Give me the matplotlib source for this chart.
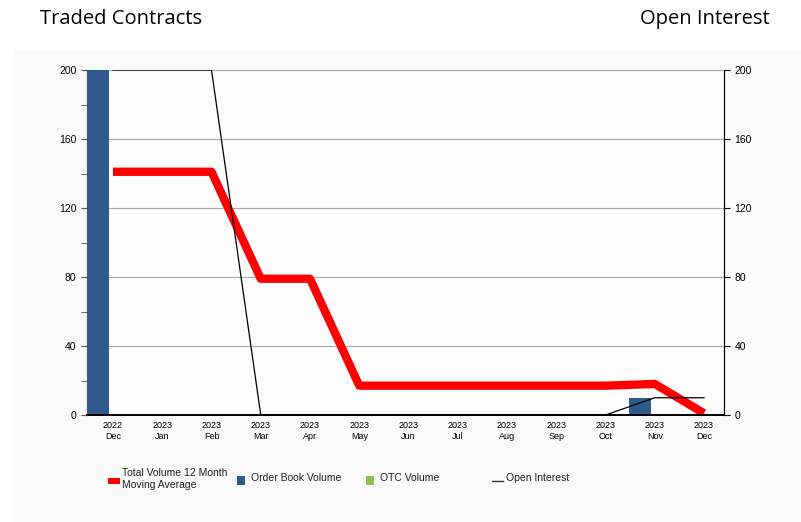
import numpy as np
import matplotlib.pyplot as plt
from matplotlib.patches import Rectangle
from matplotlib.lines import Line2D

months = ["2022\nDec", "2023\nJan", "2023\nFeb", "2023\nMar", "2023\nApr", "2023\nMay", "2023\nJun",
          "2023\nJul", "2023\nAug", "2023\nSep", "2023\nOct", "2023\nNov", "2023\nDec"]
order_book = [240, 0, 0, 0, 0, 0, 0, 0, 0, 0, 0, 10, 0]
otc_volume = [0, 0, 0, 0, 0, 0, 0, 0, 0, 0, 0, 0, 0]
moving_avg = [141, 141, 141, 79, 79, 17, 17, 17, 17, 17, 17, 18, 1]
open_interest = [200, 200, 200, 0, 0, 0, 0, 0, 0, 0, 0, 10, 10]

blue = "#2f5b8c"
green = "#8bc34a"
plt.rcParams["font.family"] = ["Liberation Sans", "DejaVu Sans"]

fig = plt.figure(figsize=(8.01, 5.22), dpi=100)
fig.patch.set_facecolor("white")
# light panel behind the chart
fig.patches.append(Rectangle((13 / 801, 0), 1, 1 - 49 / 522, transform=fig.transFigure,
                             facecolor="#fafafa", edgecolor="none", zorder=-10))

ax = fig.add_axes([87 / 801, 1 - 415 / 522, 637 / 801, 345 / 522])
ax.set_facecolor("#fcfcfc")
x = np.arange(len(months))

ax.bar(x - 0.3, order_book, width=0.45, color=blue, zorder=2)
ax.bar(x - 0.3, otc_volume, width=0.45, bottom=order_book, color=green, zorder=2)
ax.plot(x, moving_avg, color="red", lw=6, solid_joinstyle="round", solid_capstyle="butt", zorder=3)
ax.plot(x, open_interest, color="black", lw=0.9, zorder=4)

ax.set_xlim(-0.528, 12.406)
ax.set_ylim(0, 200)
ax.set_yticks(np.arange(0, 201, 40))
ax.set_yticks(np.arange(20, 200, 40), minor=True)
ax.yaxis.grid(True, color="#aaaaaa", lw=0.8, zorder=0)
ax.set_xticks(x)
ax.set_xticklabels(months, fontsize=6.5, linespacing=1.4)
ax.tick_params(axis="x", length=0, pad=4)
ax.tick_params(axis="y", labelsize=7.5, length=4, color="#555555")
ax.tick_params(axis="y", which="minor", length=4, color="#555555")

ax2 = ax.twinx()
ax2.set_ylim(0, 200)
ax2.set_yticks(np.arange(0, 201, 40))
ax2.tick_params(axis="y", labelsize=7.5, length=4)

for a in (ax, ax2):
    a.spines["top"].set_visible(False)
    a.spines["left"].set_color("#555555")
    a.spines["right"].set_color("black")
    a.spines["bottom"].set_color("black")
    a.spines["bottom"].set_linewidth(1.2)

fig.text(40 / 801, 1 - 19 / 522, "Traded Contracts", fontsize=14.5, family="Open Sans", va="center")
fig.text(770 / 801, 1 - 19 / 522, "Open Interest", fontsize=14.5, family="Open Sans", va="center", ha="right")

# legend
def fx(px):
    return px / 801

def fy(py):
    return 1 - py / 522

fig.patches.append(Rectangle((fx(108), fy(484)), 12 / 801, 6 / 522, transform=fig.transFigure,
                             facecolor="red", edgecolor="none"))
fig.text(fx(122), fy(479), "Total Volume 12 Month\nMoving Average", fontsize=7.5, va="center",
         linespacing=1.15, color="#222222")
fig.patches.append(Rectangle((fx(237), fy(485)), 8 / 801, 9 / 522, transform=fig.transFigure,
                             facecolor=blue, edgecolor="none"))
fig.text(fx(251), fy(478), "Order Book Volume", fontsize=7.5, va="center", color="#222222")
fig.patches.append(Rectangle((fx(366), fy(485)), 8 / 801, 9 / 522, transform=fig.transFigure,
                             facecolor=green, edgecolor="none"))
fig.text(fx(380), fy(478), "OTC Volume", fontsize=7.5, va="center", color="#222222")
fig.lines.append(Line2D([fx(492), fx(503)], [fy(481), fy(481)], transform=fig.transFigure,
                        color="#333333", lw=1))
fig.text(fx(506), fy(478), "Open Interest", fontsize=7.5, va="center", color="#222222")

plt.savefig("out.png", dpi=100)
plt.close()
